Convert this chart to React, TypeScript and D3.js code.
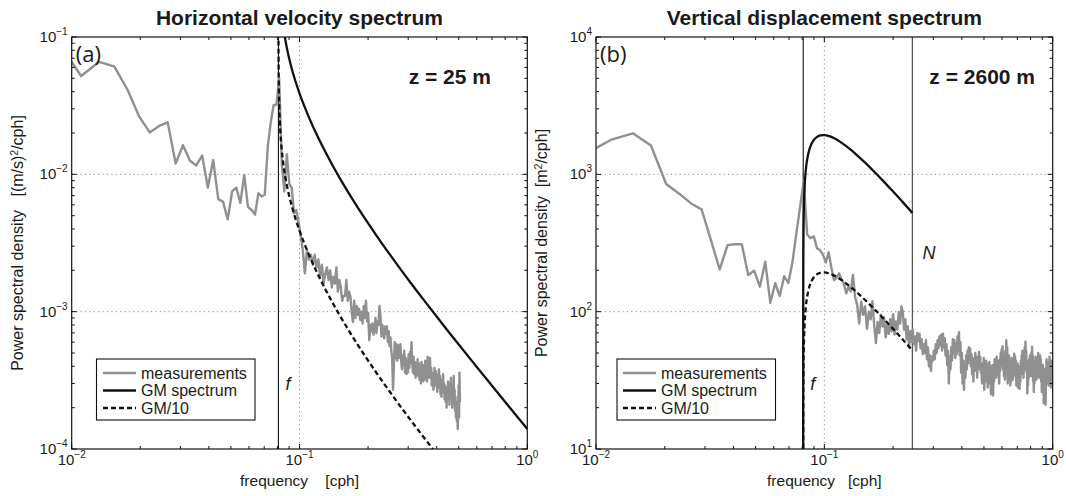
import React from 'react';
import * as d3 from 'd3';

const W = 1066;
const H = 496;

// ---------- shared frequencies ----------
const F_CORIOLIS = 0.0808; // cph, inertial frequency f
const N_BV = 0.243; // cph, buoyancy frequency N

// ---------- panel (a): horizontal velocity ----------
const DF_A = 0.0022; // frequency resolution [cph]
const K0_A = 4; // index of first estimate
// measured spectrum, units of 1e-4 (m/s)^2/cph
const measA = [
  900, 520, 660, 608, 411, 263, 202, 225, 239, 120,
  163, 126, 116, 137, 80, 127, 66, 63, 47, 75,
  80, 62, 99, 58, 55, 51, 73, 69, 71, 159,
  240, 320, 320, 500, 120, 75, 140, 85, 80, 52,
  55, 45, 36, 28, 19, 28, 24, 26, 22, 26,
  21, 24, 18, 22, 16, 19, 21, 17, 20, 15,
  18, 16, 21, 14, 17, 15, 12, 13, 13, 17,
  12, 14, 13, 10, 8.4, 12, 9, 11, 9.5, 10.5,
  8.7, 10, 8.2, 11, 9, 12, 8.5, 9.8, 6.2, 8,
  7.2, 8.2, 6.8, 7.5, 9, 7, 8.5, 8, 11, 9.5,
  6.6, 8, 7, 6.4, 7.8, 6.9, 7.8, 6, 7.2, 5.6,
  6.5, 5.2, 4.5, 2.7, 4, 6, 4.6, 5.8, 4.4, 5.7,
  5, 4.6, 5.8, 4.5, 3.8, 4.8, 4.1, 5.2, 3.6, 4.6,
  3.5, 4.4, 3.6, 4.9, 3.9, 5.1, 4.2, 6, 4.4, 3.6,
  4.7, 3.5, 4.3, 3.3, 4, 3.7, 4.5, 3.4, 4.2, 3.2,
  3.9, 3, 4.3, 3.3, 4.1, 3.1, 3.8, 3.2, 4.4, 3.5,
  4, 3.1, 4.7, 3.6, 4.2, 3.3, 4.6, 3.4, 3.9, 2.9,
  3.6, 3.4, 2.7, 2.8, 3.9, 3, 3.7, 2.9, 3.5, 2.6,
  3.3, 2.8, 3.8, 2.9, 3.4, 2.5, 3.2, 2.4, 3.1, 2.6,
  3.5, 2.7, 3, 2.3, 2.9, 2.2, 2.8, 2, 2.7, 2.3,
  3.1, 2.4, 2.9, 2.1, 3, 2.5, 3.3, 2.4, 2.8, 2,
  2.6, 2.2, 3.4, 2.3, 2.7, 1.9, 2.4, 1.7, 2.2, 1.6,
  2, 1.4, 1.8, 2.9, 1.7, 3.6, 2.2,
];
const UNIT_A = 1e-4;

const gmFreqA = [
  0.0835, 0.084, 0.085, 0.086, 0.088, 0.09, 0.093, 0.096, 0.1, 0.105,
  0.11, 0.12, 0.13, 0.14, 0.15, 0.165, 0.18, 0.2, 0.22, 0.25,
  0.28, 0.32, 0.36, 0.4, 0.45, 0.5, 0.6, 0.7, 0.8, 0.9, 1.0,
];
const gmA = [
  0.1528, 0.1384, 0.1177, 0.103, 0.0833, 0.0702, 0.0568, 0.0476, 0.0389, 0.03135,
  0.026, 0.01892, 0.01452, 0.01154, 0.00943, 0.00724, 0.00575, 0.004406, 0.003494, 0.002588,
  0.002, 0.001488, 0.001153, 0.000921, 0.000718, 0.000576, 0.000396, 0.000289, 0.00022, 0.0001732, 0.00014,
];
const gm10FreqA = [
  0.08085, 0.0809, 0.081, 0.0815, 0.082, 0.083, 0.0835, 0.085, 0.088, 0.09,
  0.093, 0.096, 0.1, 0.105, 0.11, 0.12, 0.13, 0.14, 0.15, 0.165,
  0.18, 0.2, 0.22, 0.25, 0.28, 0.32, 0.36, 0.4,
];
const gm10A = [
  0.1235, 0.0861, 0.0604, 0.0317, 0.0239, 0.01714, 0.01528, 0.01177, 0.00833, 0.00702,
  0.00568, 0.00476, 0.00389, 0.003135, 0.0026, 0.001892, 0.001452, 0.001154, 0.000943, 0.000724,
  0.000575, 0.0004406, 0.0003494, 0.0002588, 0.0002, 0.0001488, 0.0001153, 0.0000921,
];

// ---------- panel (b): vertical displacement ----------
const DF_B = 0.0029;
const K0_B = 3;
// measured spectrum, m^2/cph
const measB = [
  1360, 1780, 1990, 1620, 850, 720, 614, 556, 330, 203,
  305, 310, 310, 185, 199, 152, 231, 116, 161, 130,
  181, 162, 230, 370, 580, 900, 365, 342, 354, 290,
  281, 260, 228, 271, 210, 170, 177, 190, 172, 160,
  136, 152, 140, 185, 128, 112,
  82, 118, 95, 109, 75, 100, 88, 119, 80, 59,
  84, 70, 95, 78, 91, 65, 80, 69, 88, 72,
  96, 68, 85, 74, 99, 82, 109, 100, 74, 88,
  63, 78, 55, 72, 60, 74, 58, 66, 52, 70,
  61, 69, 54, 63, 49, 58, 50, 62, 45, 55,
  40, 48, 37, 47, 44, 52, 45, 58, 50, 62,
  54, 66, 57, 68, 52, 69, 55, 64, 48, 58,
  41, 52, 30, 47, 38, 55, 44, 63, 50, 62,
  46, 58, 49, 66, 52, 71, 48, 60, 36, 50,
  30, 44, 27, 41, 33, 48, 38, 52, 42, 55,
  44, 54, 40, 49, 35, 46, 31, 44, 37, 50,
  40, 47, 33, 45, 38, 51, 43, 47, 36, 42,
  30, 40, 33, 46, 27, 39, 31, 44, 35, 42,
  28, 38, 30, 43, 34, 40, 25, 36, 29, 41,
  24.5, 37, 31, 45, 36, 42, 33, 47, 38, 44,
  35, 41, 30, 44.6, 37, 50, 40, 53, 42, 56,
  38, 49, 34, 45, 32, 52, 41, 62, 44, 55,
  30, 42, 35, 48, 33, 44, 29, 40, 31, 46,
  37, 43, 32, 45, 38, 49.5, 41, 47, 34, 44,
  29, 39, 32, 42, 28, 37, 30, 40, 27.4, 36,
  31, 44, 35, 48, 39, 52, 40, 50, 33, 46,
  38, 55, 42, 60.5, 45, 52, 36, 44, 25.4, 38,
  29, 41, 33, 45, 36, 48, 39, 46, 34, 50,
  40, 55.5, 42, 48, 31, 40, 26, 37, 30, 43,
  35, 47, 38, 44, 32, 41, 34, 46, 37, 50,
  40, 45, 33, 42, 36, 48, 38, 44.6, 31, 37,
  26, 35, 30, 41, 33, 39, 21.5, 32, 27, 38,
  30, 35, 21, 29, 34, 45, 36, 43, 33, 40,
  30, 38, 29, 42, 34, 47, 38, 43, 31, 39,
  28, 36, 31, 44, 35, 40, 33,
];
const UNIT_B = 1;

const gmFreqB = [
  0.0808001, 0.0808005, 0.080802, 0.08081, 0.08085, 0.0809, 0.081, 0.0812, 0.0815, 0.082,
  0.083, 0.085, 0.088, 0.09, 0.093, 0.096, 0.1, 0.105, 0.11, 0.12,
  0.13, 0.14, 0.15, 0.165, 0.18, 0.2, 0.22, 0.243,
];
const gmB = [
  7.9, 17.6, 35.3, 79, 176.4, 249, 351, 493, 645, 831,
  1088, 1408, 1676, 1781, 1875, 1919, 1930, 1897, 1837, 1682,
  1518, 1365, 1227, 1049, 904, 749, 630, 523,
];
const gm10B = [
  0.79, 1.76, 3.53, 7.9, 17.6, 24.9, 35.1, 49.3, 64.5, 83.1,
  108.8, 140.8, 167.6, 178.1, 187.5, 191.9, 193, 189.7, 183.7, 168.2,
  151.8, 136.5, 122.7, 104.9, 90.4, 74.9, 63, 52.3,
];

// ---------- tick labels ----------
const xTickExpA = [-2, -1, 0];
const yTickExpA = [-1, -2, -3, -4];
const xTickExpB = [-2, -1, 0];
const yTickExpB = [4, 3, 2, 1];

const legendLabels = ['measurements', 'GM spectrum', 'GM/10'];

const FONT = '"Liberation Sans", Arial, Helvetica, sans-serif';
const GRAY = '#909090';
const TXT = '#1a1a1a';

type Pt = [number, number];

interface PanelCfg {
  id: string;
  left: number;
  right: number;
  top: number;
  bottom: number;
  yMin: number;
  yMax: number;
  xExp: number[];
  yExp: number[];
  meas: Pt[];
  gm: Pt[];
  gm10: Pt[];
  title: string;
  letter: string;
  depth: string;
  ylabel: string;
  xlabel: string;
  showN: boolean;
  legendX: number;
  legendLineX: number;
  depthRight: number;
}

const sup = (e: number) => (e < 0 ? '\u2212' + Math.abs(e) : String(e));

function Panel({ c }: { c: PanelCfg }) {
  const x = d3.scaleLog().domain([0.01, 1]).range([c.left, c.right]);
  const y = d3.scaleLog().domain([c.yMin, c.yMax]).range([c.bottom, c.top]);
  const lin = d3.line<Pt>().x((d) => x(d[0])).y((d) => y(d[1]));
  const smooth = d3
    .line<Pt>()
    .x((d) => x(d[0]))
    .y((d) => y(d[1]))
    .curve(d3.curveMonotoneX);

  const xMinor: number[] = [];
  for (let e = -2; e < 0; e++) for (let m = 2; m <= 9; m++) xMinor.push(m * Math.pow(10, e));
  const yMinor: number[] = [];
  const ye0 = Math.round(Math.log10(c.yMin));
  const ye1 = Math.round(Math.log10(c.yMax));
  for (let e = ye0; e < ye1; e++) for (let m = 2; m <= 9; m++) yMinor.push(m * Math.pow(10, e));
  const xMajor = c.xExp.map((e) => Math.pow(10, e));
  const yMajor = c.yExp.map((e) => Math.pow(10, e));

  const tickMajor = 5;
  const tickMinor = 3;
  const clipId = 'clip-' + c.id;
  const xf = x(F_CORIOLIS);
  const xN = x(N_BV);

  const ly = [373, 390.5, 408];

  return (
    <g>
      <defs>
        <clipPath id={clipId}>
          <rect x={c.left} y={c.top} width={c.right - c.left} height={c.bottom - c.top} />
        </clipPath>
      </defs>
      <rect x={c.left} y={c.top} width={c.right - c.left} height={c.bottom - c.top} fill="#fff" />
      {/* grid */}
      <g stroke="#8a8a8a" strokeWidth={1} strokeDasharray="1.2 3.2">
        {xMajor
          .filter((v) => v > 0.01 && v < 1)
          .map((v) => (
            <line key={'gx' + v} x1={x(v)} x2={x(v)} y1={c.top} y2={c.bottom} />
          ))}
        {yMajor
          .filter((v) => v > c.yMin && v < c.yMax)
          .map((v) => (
            <line key={'gy' + v} x1={c.left} x2={c.right} y1={y(v)} y2={y(v)} />
          ))}
      </g>
      <g clipPath={`url(#${clipId})`}>
        <line x1={xf} x2={xf} y1={c.top} y2={c.bottom} stroke="#111" strokeWidth={1.1} />
        {c.showN && <line x1={xN} x2={xN} y1={c.top} y2={c.bottom} stroke="#555" strokeWidth={1.3} />}
        <path d={lin(c.meas) || ''} fill="none" stroke={GRAY} strokeWidth={2.4} strokeLinejoin="round" />
        <path d={smooth(c.gm) || ''} fill="none" stroke="#111" strokeWidth={2.3} />
        <path d={smooth(c.gm10) || ''} fill="none" stroke="#111" strokeWidth={2.3} strokeDasharray="5 3" />
      </g>
      {/* box */}
      <rect
        x={c.left}
        y={c.top}
        width={c.right - c.left}
        height={c.bottom - c.top}
        fill="none"
        stroke="#111"
        strokeWidth={1.2}
      />
      {/* ticks */}
      <g stroke="#111" strokeWidth={1}>
        {xMinor.map((v) => (
          <g key={'xm' + v}>
            <line x1={x(v)} x2={x(v)} y1={c.bottom} y2={c.bottom - tickMinor} />
            <line x1={x(v)} x2={x(v)} y1={c.top} y2={c.top + tickMinor} />
          </g>
        ))}
        {xMajor.map((v) => (
          <g key={'xM' + v}>
            <line x1={x(v)} x2={x(v)} y1={c.bottom} y2={c.bottom - tickMajor} />
            <line x1={x(v)} x2={x(v)} y1={c.top} y2={c.top + tickMajor} />
          </g>
        ))}
        {yMinor.map((v) => (
          <g key={'ym' + v}>
            <line x1={c.left} x2={c.left + tickMinor} y1={y(v)} y2={y(v)} />
            <line x1={c.right} x2={c.right - tickMinor} y1={y(v)} y2={y(v)} />
          </g>
        ))}
        {yMajor.map((v) => (
          <g key={'yM' + v}>
            <line x1={c.left} x2={c.left + tickMajor} y1={y(v)} y2={y(v)} />
            <line x1={c.right} x2={c.right - tickMajor} y1={y(v)} y2={y(v)} />
          </g>
        ))}
      </g>
      {/* tick labels */}
      <g fontFamily={FONT} fill={TXT}>
        {c.xExp.map((e) => (
          <text key={'xl' + e} x={x(Math.pow(10, e))} y={c.bottom + 16} textAnchor="middle" fontSize={15}>
            <tspan>10</tspan>
            <tspan dy={-7} fontSize={10}>
              {sup(e)}
            </tspan>
          </text>
        ))}
        {c.yExp.map((e) => (
          <text key={'yl' + e} x={c.left - 4} y={y(Math.pow(10, e)) + 5} textAnchor="end" fontSize={15}>
            <tspan>10</tspan>
            <tspan dy={-7} fontSize={10}>
              {sup(e)}
            </tspan>
          </text>
        ))}
      </g>
      {/* axis labels */}
      <text
        x={(c.left + c.right) / 2}
        y={486}
        textAnchor="middle"
        fontFamily={FONT}
        fontSize={15.5}
        fill={TXT}
        style={{ whiteSpace: 'pre' }}
      >
        {c.xlabel}
      </text>
      <text
        transform={`translate(${c.left - 49},${(c.top + c.bottom) / 2}) rotate(-90)`}
        textAnchor="middle"
        fontFamily={FONT}
        fontSize={16}
        fill={TXT}
        style={{ whiteSpace: 'pre' }}
      >
        {c.ylabel.split('²')[0]}
        <tspan dy={-5} fontSize={10.5}>
          2
        </tspan>
        <tspan dy={5}>{c.ylabel.split('²')[1]}</tspan>
      </text>
      {/* title */}
      <text
        x={(c.left + c.right) / 2}
        y={25}
        textAnchor="middle"
        fontFamily={FONT}
        fontWeight="bold"
        fontSize={21}
        fill={TXT}
      >
        {c.title}
      </text>
      {/* annotations */}
      <text x={c.left + 4} y={62} fontFamily='"Open Sans", "Noto Sans", sans-serif' fontSize={22} fill={TXT}>
        {c.letter}
      </text>
      <text x={c.depthRight} y={84} textAnchor="end" fontFamily={FONT} fontWeight="bold" fontSize={21} fill={TXT}>
        {c.depth}
      </text>
      <text x={xf + 7} y={390} fontFamily={FONT} fontStyle="italic" fontSize={18} fill={TXT}>
        f
      </text>
      {c.showN && (
        <text x={xN + 10} y={259} fontFamily={FONT} fontStyle="italic" fontSize={18} fill={TXT}>
          N
        </text>
      )}
      {/* legend */}
      <g>
        <rect x={c.legendX} y={359} width={158.5} height={61} fill="#fff" stroke="#111" strokeWidth={1.1} />
        <line x1={c.legendLineX} x2={c.legendLineX + 33} y1={ly[0]} y2={ly[0]} stroke={GRAY} strokeWidth={2.5} />
        <line x1={c.legendLineX} x2={c.legendLineX + 33} y1={ly[1]} y2={ly[1]} stroke="#111" strokeWidth={2.5} />
        <line
          x1={c.legendLineX}
          x2={c.legendLineX + 33}
          y1={ly[2]}
          y2={ly[2]}
          stroke="#111"
          strokeWidth={2.5}
          strokeDasharray="5 3"
        />
        {legendLabels.map((t, i) => (
          <text key={t} x={c.legendLineX + 38} y={ly[i] + 5.5} fontFamily={FONT} fontSize={16} fill={TXT}>
            {t}
          </text>
        ))}
      </g>
    </g>
  );
}

export default function App() {
  const measPtsA: Pt[] = measA.map((v, i) => [(K0_A + i) * DF_A, v * UNIT_A]);
  const measPtsB: Pt[] = measB.map((v, i) => [(K0_B + i) * DF_B, v * UNIT_B]);
  const gmPtsA: Pt[] = gmFreqA.map((f, i) => [f, gmA[i]]);
  const gm10PtsA: Pt[] = gm10FreqA.map((f, i) => [f, gm10A[i]]);
  const gmPtsB: Pt[] = gmFreqB.map((f, i) => [f, gmB[i]]);
  const gm10PtsB: Pt[] = gmFreqB.map((f, i) => [f, gm10B[i]]);

  const panelA: PanelCfg = {
    id: 'a',
    left: 71.7,
    right: 527.3,
    top: 37,
    bottom: 449,
    yMin: 1e-4,
    yMax: 1e-1,
    xExp: xTickExpA,
    yExp: yTickExpA,
    meas: measPtsA,
    gm: gmPtsA,
    gm10: gm10PtsA,
    title: 'Horizontal velocity spectrum',
    letter: '(a)',
    depth: 'z = 25 m',
    ylabel: 'Power spectral density   [(m/s)²/cph]',
    xlabel: 'frequency    [cph]',
    showN: false,
    legendX: 96.5,
    legendLineX: 103,
    depthRight: 491,
  };
  const panelB: PanelCfg = {
    id: 'b',
    left: 596,
    right: 1052.7,
    top: 37,
    bottom: 449,
    yMin: 10,
    yMax: 1e4,
    xExp: xTickExpB,
    yExp: yTickExpB,
    meas: measPtsB,
    gm: gmPtsB,
    gm10: gm10PtsB,
    title: 'Vertical displacement spectrum',
    letter: '(b)',
    depth: 'z = 2600 m',
    ylabel: 'Power spectral density  [m²/cph]',
    xlabel: 'frequency   [cph]',
    showN: true,
    legendX: 617,
    legendLineX: 623,
    depthRight: 1035,
  };

  return (
    <svg
      width={W}
      height={H}
      viewBox={`0 0 ${W} ${H}`}
      style={{ position: 'fixed', left: 0, top: 0, background: '#fff', display: 'block' }}
    >
      <rect x={0} y={0} width={W} height={H} fill="#fff" />
      <Panel c={panelA} />
      <Panel c={panelB} />
    </svg>
  );
}
